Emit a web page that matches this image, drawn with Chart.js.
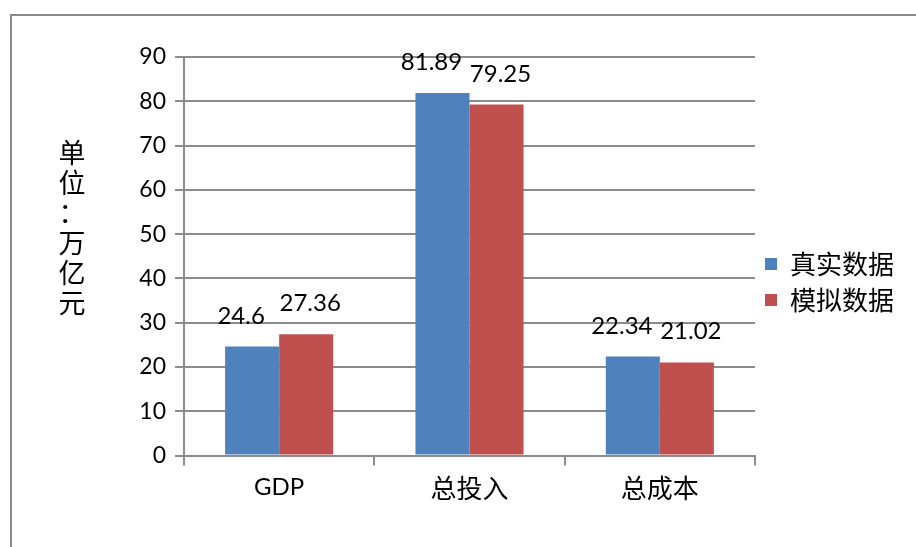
<!DOCTYPE html>
<html>
<head>
<meta charset="utf-8">
<script src="https://cdn.jsdelivr.net/npm/chart.js@4.4.1/dist/chart.umd.min.js"></script>
<style>
  html, body { margin: 0; padding: 0; background: #ffffff; }
  #wrap { width: 916px; height: 547px; position: relative; }
</style>
</head>
<body>
<div id="wrap"><canvas id="c" width="916" height="547"></canvas></div>
<script>
// categories and series
const categories = ['GDP', '总投入', '总成本'];
const realValues = [24.6, 81.89, 22.34];
const simValues = [27.36, 79.25, 21.02];
const seriesNames = ['真实数据', '模拟数据'];
const yTitleChars = ['单', '位', '：', '万', '亿', '元'];

const LATIN = 'Lato, "Open Sans", sans-serif';
const CJK = '"Noto Sans CJK SC", sans-serif';
const GRID = '#8c8c8c';

// outer frame around the chart
const framePlugin = {
  id: 'frame',
  beforeDraw(chart) {
    const ctx = chart.ctx;
    ctx.save();
    ctx.strokeStyle = '#8a8a8a';
    ctx.lineWidth = 2;
    ctx.strokeRect(11, 15, 1000, 1000);
    ctx.restore();
  }
};

// value labels above each bar, nudged apart so neighbours don't collide
const valueLabels = {
  id: 'valueLabels',
  afterDatasetsDraw(chart) {
    const ctx = chart.ctx;
    ctx.save();
    ctx.font = '24px ' + LATIN;
    ctx.fillStyle = '#000';
    ctx.textAlign = 'center';
    ctx.textBaseline = 'alphabetic';
    chart.data.datasets.forEach((ds, di) => {
      const meta = chart.getDatasetMeta(di);
      meta.data.forEach((bar, i) => {
        const shift = di === 0 ? -11 : 4;
        ctx.fillText(String(ds.data[i]), bar.x + shift, bar.y - 23);
      });
    });
    ctx.restore();
  }
};

// stacked vertical unit title left of the y axis
const unitTitle = {
  id: 'unitTitle',
  afterDraw(chart) {
    const ctx = chart.ctx;
    ctx.save();
    ctx.font = '27px ' + CJK;
    ctx.fillStyle = '#000';
    ctx.textAlign = 'center';
    ctx.textBaseline = 'middle';
    let y = 153;
    yTitleChars.forEach((ch) => {
      ctx.fillText(ch, 72, y);
      y += 30;
    });
    ctx.restore();
  }
};

new Chart(document.getElementById('c'), {
  type: 'bar',
  data: {
    labels: categories,
    datasets: [
      { label: seriesNames[0], data: realValues, backgroundColor: '#4f81bd' },
      { label: seriesNames[1], data: simValues, backgroundColor: '#c0504d' }
    ]
  },
  options: {
    responsive: false,
    animation: false,
    devicePixelRatio: 1,
    layout: { padding: { top: 57, left: 0, right: 12, bottom: 40 } },
    datasets: { bar: { categoryPercentage: 0.568, barPercentage: 1.0 } },
    scales: {
      x: {
        grid: { display: true, drawOnChartArea: false, drawTicks: true, tickLength: 10, color: GRID, lineWidth: 2, offset: true },
        border: { display: true, color: GRID, width: 2 },
        ticks: {
          color: '#000',
          padding: 7,
          font: (c) => (c.index === 0 ? { family: LATIN, size: 24 } : { family: CJK, size: 26 })
        },
        afterFit(scale) { scale.height = 51.5; }
      },
      y: {
        min: 0, max: 90,
        ticks: { stepSize: 10, color: '#000', padding: 9, font: { family: LATIN, size: 23 } },
        grid: { color: GRID, lineWidth: 2, drawTicks: true, tickLength: 9 },
        border: { display: true, color: GRID, width: 2 },
        afterFit(scale) { scale.width = 184; }
      }
    },
    plugins: {
      legend: {
        position: 'right',
        labels: {
          boxWidth: 12, boxHeight: 12, padding: 10, color: '#000',
          font: { family: CJK, size: 26, lineHeight: 1.1 }
        }
      },
      tooltip: { enabled: false }
    }
  },
  plugins: [framePlugin, valueLabels, unitTitle]
});
</script>
</body>
</html>
